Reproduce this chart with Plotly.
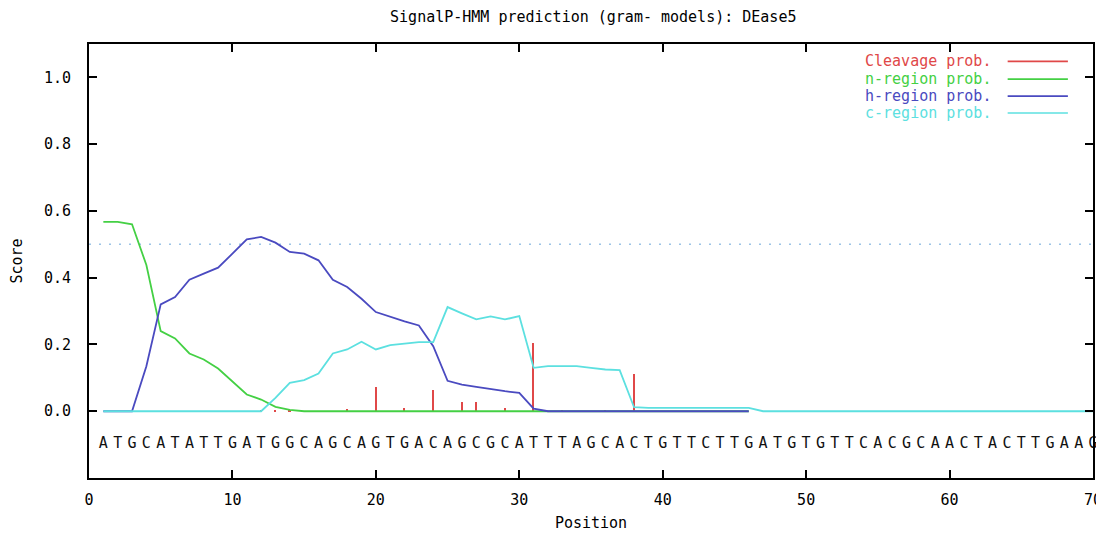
import plotly.graph_objects as go

# ---------------- data ----------------
positions = list(range(1, 71))
sequence = "ATGCATATTGATGGCAGCAGTGACAGCGCATTTAGCACTGTTCTTGATGTGTTCACGCAACTACTTGAAG"
seq_letters = list(sequence)

pos46 = list(range(1, 47))

cleavage = [0, 0, 0, 0, 0, 0, 0, 0, 0, 0,
            0, 0.003, 0.003, 0.003, 0, 0, 0, 0.006, 0, 0.073,
            0, 0.011, 0, 0.065, 0, 0.027, 0.027, 0, 0.010, 0,
            0.205, 0, 0.004, 0, 0, 0.005, 0, 0.113, 0, 0,
            0, 0, 0, 0, 0, 0]

n_region = [0.567, 0.567, 0.560, 0.438, 0.240, 0.218, 0.173, 0.155, 0.128, 0.090,
            0.050, 0.035, 0.013, 0.004, 0, 0, 0, 0, 0, 0,
            0, 0, 0, 0, 0, 0, 0, 0, 0, 0,
            0, 0, 0, 0, 0, 0, 0, 0, 0, 0,
            0, 0, 0, 0, 0, 0]

h_region = [0, 0, 0, 0.135, 0.320, 0.342, 0.394, 0.412, 0.430, 0.472,
            0.515, 0.522, 0.505, 0.477, 0.472, 0.452, 0.394, 0.372, 0.337, 0.297,
            0.282, 0.269, 0.257, 0.195, 0.091, 0.080, 0.073, 0.066, 0.060, 0.055,
            0.008, 0, 0, 0, 0, 0, 0, 0, 0, 0,
            0, 0, 0, 0, 0, 0]

c_region = [0, 0, 0, 0, 0, 0, 0, 0, 0, 0,
            0, 0, 0.040, 0.085, 0.093, 0.113, 0.173, 0.185, 0.208, 0.185,
            0.198, 0.203, 0.207, 0.207, 0.312, 0.293, 0.275, 0.284, 0.275, 0.285,
            0.130, 0.135, 0.135, 0.135, 0.130, 0.125, 0.123, 0.012, 0.010, 0.010,
            0.010, 0.010, 0.010, 0.010, 0.010, 0.010,
            0, 0, 0, 0, 0, 0, 0, 0, 0, 0,
            0, 0, 0, 0, 0, 0, 0, 0, 0, 0,
            0, 0, 0, 0]

series_names = ["Cleavage prob.", "n-region prob.", "h-region prob.", "c-region prob."]
x_ticks = [0, 10, 20, 30, 40, 50, 60, 70]
y_ticks = [0.0, 0.2, 0.4, 0.6, 0.8, 1.0]
threshold = 0.5
title_text = "SignalP-HMM prediction (gram- models): DEase5"

# ---------------- style ----------------
FONT = "DejaVu Sans Mono"
FS = 15
COL_CLV = "#e04848"
COL_N = "#44d044"
COL_H = "#4a4ac0"
COL_C = "#5ce0e0"
colors = [COL_CLV, COL_N, COL_H, COL_C]

fig = go.Figure()

fig.add_trace(go.Bar(x=pos46, y=cleavage, width=0.12, marker=dict(color=COL_CLV, line=dict(width=0)),
                     name=series_names[0], hoverinfo="x+y"))
fig.add_trace(go.Scatter(x=pos46, y=n_region, mode="lines", line=dict(color=COL_N, width=1.8),
                         name=series_names[1]))
fig.add_trace(go.Scatter(x=pos46, y=h_region, mode="lines", line=dict(color=COL_H, width=1.8),
                         name=series_names[2]))
fig.add_trace(go.Scatter(x=positions, y=c_region, mode="lines", line=dict(color=COL_C, width=1.8),
                         name=series_names[3]))
fig.add_trace(go.Scatter(x=positions, y=[-0.1] * len(positions), mode="text", text=seq_letters,
                         textfont=dict(family=FONT, size=FS, color="#111111"),
                         cliponaxis=False, hoverinfo="skip", showlegend=False))

# threshold dotted line
fig.add_shape(type="line", xref="x", yref="y", x0=0, x1=70, y0=threshold, y1=threshold,
              line=dict(color="#9cc4e6", width=1.5, dash="2px,8px"), layer="below")

# gnuplot-style legend (text then line sample), top-right inside the frame
leg_y = [0.960, 0.919, 0.880, 0.841]
for name, col, yy in zip(series_names, colors, leg_y):
    fig.add_annotation(xref="paper", yref="paper", x=0.900, y=yy, text=name, showarrow=False,
                       xanchor="right", yanchor="middle",
                       font=dict(family=FONT, size=FS, color=col))
    fig.add_shape(type="line", xref="paper", yref="paper", x0=0.915, x1=0.975, y0=yy, y1=yy,
                  line=dict(color=col, width=1.6))

fig.update_layout(
    width=1096, height=525,
    margin=dict(l=81, r=11, t=36, b=55, autoexpand=False),
    paper_bgcolor="white", plot_bgcolor="white",
    showlegend=False, bargap=0,
    title=dict(text=title_text, x=0.534, xanchor="center", y=0.983, yanchor="middle",
               font=dict(family=FONT, size=FS, color="black")),
    font=dict(family=FONT, size=FS, color="black"),
)
fig.update_xaxes(range=[0, 70], tickvals=x_ticks, ticks="inside", ticklen=8, tickwidth=1.5,
                 tickcolor="black", showline=True, linecolor="black", linewidth=2, mirror="ticks",
                 showgrid=False, zeroline=False, ticklabelstandoff=7, automargin=False,
                 title=dict(text="Position", standoff=9, font=dict(family=FONT, size=FS)))
fig.update_yaxes(range=[-0.2, 1.1], tickvals=y_ticks, tickformat=".1f", ticks="inside", ticklen=8,
                 tickwidth=1.5, tickcolor="black", showline=True, linecolor="black", linewidth=2,
                 mirror="ticks", showgrid=False, zeroline=False, ticklabelstandoff=13, automargin=False,
                 title=dict(text="Score", standoff=18, font=dict(family=FONT, size=FS)))

fig.write_html("out.html")
